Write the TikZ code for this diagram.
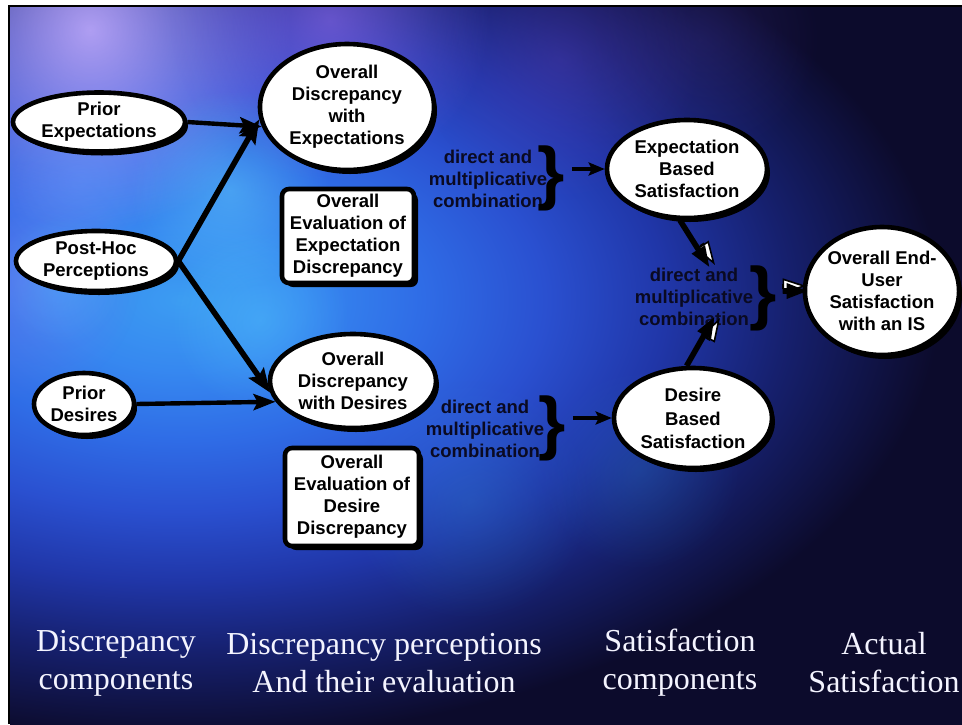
\documentclass[tikz,border=0pt]{standalone}
\usepackage{fontspec}
\setmainfont{Liberation Serif}
\setsansfont{Liberation Sans}
\usetikzlibrary{shapes.geometric,arrows.meta,shadows,fadings,calc}

% palette
\definecolor{navybase}{HTML}{0C0B2C}
\definecolor{neb0}{HTML}{3C9CF2}
\definecolor{neb1}{HTML}{3688F0}
\definecolor{neb2}{HTML}{2F6CE6}
\definecolor{neb3}{HTML}{2A50D0}
\definecolor{neb4}{HTML}{2036A8}
\definecolor{neb5}{HTML}{16206E}
\definecolor{neb6}{HTML}{0C0B2C}
\definecolor{comboink}{HTML}{0A0A22}
\definecolor{headink}{HTML}{F4F4FF}

% radial glow; the colour ramp ends halfway to the path edge so the
% path boundary itself stays well outside the frame
\pgfdeclareradialshading{nebula}{\pgfpoint{0bp}{0bp}}{%
  color(0bp)=(neb0); color(2bp)=(neb1); color(4bp)=(neb2);
  color(6bp)=(neb3); color(8bp)=(neb4); color(10bp)=(neb5);
  color(12.5bp)=(neb6); color(50bp)=(neb6)}

\tikzfading[name=softglow, inner color=transparent!0, outer color=transparent!100]

\newcommand\nodefont{\sffamily\bfseries\fontsize{18.5}{22}\selectfont}
\newcommand\colheadfont{\rmfamily\fontsize{32}{38}\selectfont}
\newcommand\bigbracefont{\sffamily\bfseries\fontsize{70}{70}\selectfont}

\tikzset{
  ell/.style={ellipse, draw=black, line width=4.6pt, fill=white, inner sep=0pt,
    align=center, font=\nodefont, text=black,
    drop shadow={shadow xshift=3pt, shadow yshift=-4pt, opacity=1, fill=black}},
  evalbox/.style={rectangle, rounded corners=7pt, draw=black, line width=4.6pt,
    fill=white, inner sep=0pt, align=center, font=\nodefont, text=black,
    drop shadow={shadow xshift=4pt, shadow yshift=-4pt, opacity=1, fill=black}},
  combo/.style={align=center, inner sep=0pt, font=\nodefont, text=comboink},
  bracemark/.style={inner sep=0pt, font=\bigbracefont, text=black},
  bigarrow/.style={line width=5.6pt, -{Stealth[length=24pt,width=18pt,inset=4pt]}},
  flatarrow/.style={line width=4.4pt, -{Stealth[length=22pt,width=16pt,inset=4pt]}},
  shortarrow/.style={line width=4.6pt, -{Stealth[length=16pt,width=13pt,inset=3pt]}},
  solidtip/.style={line width=5.6pt, -{Triangle[length=22pt,width=14pt]}},
  ghosttip/.style={line width=5pt, -{Triangle[length=24pt,width=15pt,fill=white,line width=1.6pt]}},
  colhead/.style={align=center, inner sep=0pt, font=\colheadfont, text=headink},
  glow/.style={path fading=softglow, opacity=#1},
}

\begin{document}
\begin{tikzpicture}[x=1pt,y=-1pt]
\useasboundingbox (0,0) rectangle (962,724);
\fill[white] (0,0) rectangle (962,724);
\fill[black] (8,5) rectangle (962,724);

% nebula backdrop
\begin{scope}
  \clip (10,7) rectangle (962,724);
  \fill[navybase] (10,7) rectangle (962,724);
  \shade[shading=nebula] (180,300) ellipse [x radius=1520, y radius=880];
  \fill[color={rgb,255:red,200;green,176;blue,255}, glow=0.85] (90,30) circle (200);
  \fill[color={rgb,255:red,160;green,112;blue,240}, glow=0.55] (330,20) circle (160);
  \fill[color={rgb,255:red,96;green,64;blue,192}, glow=0.35] (560,60) circle (140);
  \fill[color={rgb,255:red,144;green,112;blue,240}, glow=0.35] (20,280) circle (120);
  \fill[color={rgb,255:red,106;green,224;blue,255}, glow=0.40] (230,190) circle (100);
  \fill[color={rgb,255:red,88;green,208;blue,255}, glow=0.35] (260,320) circle (90);
  \fill[color={rgb,255:red,90;green,200;blue,255}, glow=0.30] (60,280) circle (65);
  \fill[color={rgb,255:red,112;green,160;blue,255}, glow=0.30] (80,180) circle (90);
  \fill[color={rgb,255:red,48;green,144;blue,208}, glow=0.25] (470,500) circle (120);
  \fill[color={rgb,255:red,42;green,128;blue,192}, glow=0.25] (640,470) circle (100);
  \fill[color={rgb,255:red,64;green,48;blue,138}, glow=0.30] (700,40) circle (120);
\end{scope}

% discrepancy components
\node[ell, minimum width=172pt, minimum height=59pt] (pe) at (99,122) {Prior\\Expectations};
\node[ell, minimum width=160pt, minimum height=60pt] (ph) at (96,261) {Post-Hoc\\Perceptions};
\node[ell, minimum width=100pt, minimum height=62pt] (pd) at (84,404) {Prior\\Desires};

% discrepancy perceptions
\node[ell, minimum width=174pt, minimum height=126pt] (de) at (347,107) {Overall\\Discrepancy\\with\\Expectations};
\node[ell, minimum width=166pt, minimum height=94pt] (dd) at (353,381) {Overall\\Discrepancy\\with Desires};
\node[evalbox, minimum width=132pt, minimum height=94pt] (eb1) at (348,236) {Overall\\Evaluation of\\Expectation\\Discrepancy};
\node[evalbox, minimum width=134pt, minimum height=98pt] (eb2) at (352,497) {Overall\\Evaluation of\\Desire\\Discrepancy};

% combination labels and braces
\node[combo] (c1) at (488,179) {direct and\\multiplicative\\combination};
\node[bracemark] (b1) at (551,178) {\}};
\node[combo] (c2) at (485,429) {direct and\\multiplicative\\combination};
\node[bracemark] (b2) at (552,428) {\}};
\node[combo] (c3) at (694,297) {direct and\\multiplicative\\combination};
\node[bracemark] (b3) at (763,298) {\}};

% satisfaction components
\node[ell, minimum width=160pt, minimum height=98pt] (es) at (687,169) {Expectation\\Based\\Satisfaction};
\node[ell, minimum width=158pt, minimum height=100pt] (ds) at (693,418)
  {Desire\\[2pt]Based\\[1pt]Satisfaction};
\node[ell, minimum width=150pt, minimum height=128pt] (eu) at (882,291) {Overall End-\\User\\Satisfaction\\with an IS};

% connectors
\draw[flatarrow] (pe.east) -- (de.193);
\draw[bigarrow] (ph.east) -- (de.188);
\draw[bigarrow] (ph.east) -- (dd.188);
\draw[flatarrow] (pd.east) -- (dd.195);

\draw[shortarrow] ([xshift=7pt]b1.east |- es.west) -- (es.west);
\draw[shortarrow] ([xshift=7pt]b2.east |- ds.west) -- (ds.west);

% expectation based satisfaction into the final combination
\coordinate (t1) at ([xshift=16pt]c3.north);
\draw[ghosttip] ($(t1)!25pt!(es.262) + (5pt,3pt)$) -- ($(t1) + (5pt,3pt)$);
\draw[solidtip] (es.262) -- (t1);
% desire based satisfaction into the final combination
\coordinate (t2) at ([xshift=21pt,yshift=10pt]c3.south);
\draw[ghosttip] ($(t2)!25pt!(ds.97) + (5pt,-2pt)$) -- ($(t2) + (5pt,-2pt)$);
\draw[solidtip] (ds.97) -- (t2);
% final combination into overall satisfaction
\coordinate (t3) at ([xshift=6pt]eu.west);
\coordinate (s3) at ([xshift=6pt]b3.east |- eu.west);
\draw[ghosttip] ($(t3)!25pt!(s3) + (-2pt,5pt)$) -- ($(t3) + (-2pt,5pt)$);
\draw[solidtip] (s3) -- (t3);

% column headings
\node[colhead] (h1) at (116,663) {Discrepancy\\components};
\node[colhead] (h2) at (384,663) {Discrepancy perceptions\\And their evaluation};
\node[colhead] (h3) at (680,663) {Satisfaction\\components};
\node[colhead] (h4) at (884,663) {Actual\\Satisfaction};
\end{tikzpicture}
\end{document}
